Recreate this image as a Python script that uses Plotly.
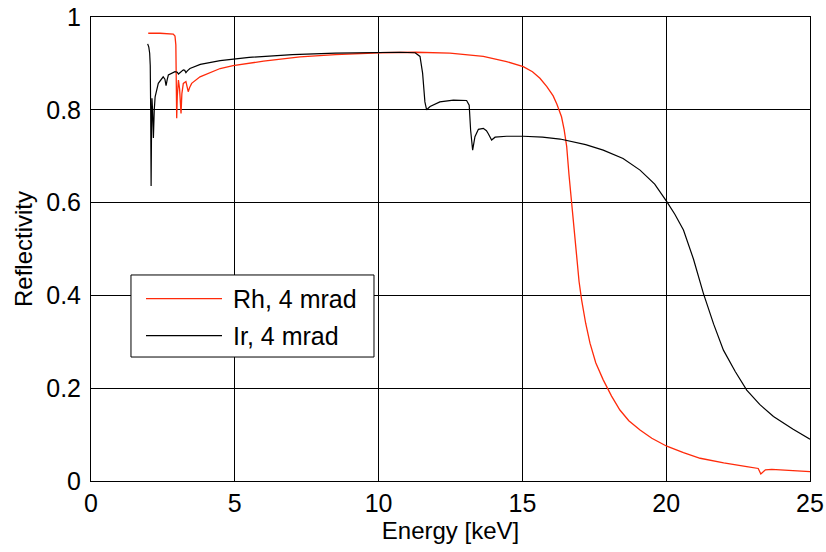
import plotly.graph_objects as go

# Rh, 4 mrad (energy keV, reflectivity)
rh_energy = [1.99, 2.40, 2.86, 2.92, 2.95, 2.97, 2.98, 3.00, 3.04, 3.08, 3.11, 3.13, 3.16, 3.21,
             3.30, 3.34, 3.38, 3.43, 3.50, 3.79, 4.49, 4.94, 6.0, 7.27, 8.5, 10.05, 11.3,
             12.48, 13.64, 14.45, 15.03, 15.35, 15.61, 15.85, 16.07, 16.20, 16.31, 16.36,
             16.45, 16.54, 16.62, 16.71, 16.80, 16.89, 16.97, 17.06, 17.20, 17.35, 17.55,
             17.81, 18.10, 18.39, 18.70, 19.09, 19.50, 20.02, 20.60, 21.18, 22.00, 22.80,
             23.20, 23.29, 23.45, 23.67, 24.30, 25.0]
rh_refl = [0.965, 0.965, 0.963, 0.959, 0.94, 0.85, 0.782, 0.83, 0.864, 0.845, 0.80, 0.792, 0.835, 0.857,
           0.861, 0.852, 0.839, 0.848, 0.857, 0.871, 0.889, 0.895, 0.905, 0.914, 0.919, 0.923, 0.924,
           0.922, 0.915, 0.904, 0.893, 0.882, 0.868, 0.850, 0.830, 0.812, 0.795, 0.785,
           0.758, 0.721, 0.660, 0.598, 0.535, 0.476, 0.430, 0.390, 0.340, 0.297, 0.255,
           0.218, 0.183, 0.153, 0.130, 0.110, 0.092, 0.075, 0.061, 0.049, 0.039, 0.031,
           0.027, 0.015, 0.024, 0.025, 0.023, 0.020]

# Ir, 4 mrad
ir_energy = [1.97, 2.01, 2.04, 2.06, 2.075, 2.09, 2.105, 2.12, 2.14, 2.16, 2.17, 2.18, 2.20,
             2.23, 2.34, 2.51, 2.57, 2.61, 2.65, 2.69, 2.92, 3.00, 3.04, 3.10, 3.21, 3.26,
             3.30, 3.35, 3.44, 3.8, 4.49, 5.5, 7.0, 8.5, 10.0, 10.74, 11.27, 11.44,
             11.53, 11.61, 11.67, 11.79, 12.13, 12.60, 13.06, 13.15, 13.20, 13.27, 13.35,
             13.47, 13.64, 13.75, 13.81, 13.93, 14.05, 14.45, 15.03, 15.7, 16.31, 16.48,
             17.2, 17.81, 18.5, 19.09, 19.60, 20.02, 20.30, 20.60, 20.95, 21.29, 21.65,
             21.99, 22.40, 22.80, 23.25, 23.73, 24.40, 25.0]
ir_refl = [0.942, 0.935, 0.922, 0.895, 0.80, 0.636, 0.76, 0.825, 0.80, 0.760, 0.739, 0.76, 0.80,
           0.828, 0.857, 0.871, 0.866, 0.852, 0.865, 0.875, 0.882, 0.881, 0.877, 0.881, 0.886, 0.885,
           0.880, 0.884, 0.889, 0.898, 0.906, 0.913, 0.919, 0.922, 0.924, 0.924, 0.923, 0.915,
           0.879, 0.817, 0.800, 0.807, 0.817, 0.821, 0.820, 0.810, 0.756, 0.713, 0.742,
           0.758, 0.760, 0.755, 0.749, 0.735, 0.741, 0.743, 0.743, 0.741, 0.737, 0.735,
           0.725, 0.713, 0.695, 0.670, 0.640, 0.602, 0.575, 0.541, 0.478, 0.405, 0.338,
           0.282, 0.236, 0.196, 0.165, 0.139, 0.112, 0.090]

series_names = ["Rh, 4 mrad", "Ir, 4 mrad"]
series_colors = ["#ff2a0a", "black"]

font = "Liberation Sans, Arial, Helvetica, sans-serif"

fig = go.Figure()
fig.add_trace(go.Scatter(x=rh_energy, y=rh_refl, mode="lines", name=series_names[0],
                         line=dict(color=series_colors[0], width=1.3), showlegend=False))
fig.add_trace(go.Scatter(x=ir_energy, y=ir_refl, mode="lines", name=series_names[1],
                         line=dict(color=series_colors[1], width=1.2), showlegend=False))

axis_common = dict(
    showline=True, linecolor="black", linewidth=1, mirror=True,
    showgrid=True, gridcolor="black", gridwidth=1, automargin=False,
    zeroline=False, ticks="", ticklabeloverflow="allow",
    tickfont=dict(size=25, color="black", family=font),
)
fig.update_xaxes(range=[0, 25], dtick=5, ticklen=0, ticklabelstandoff=0,
                 title=dict(text="Energy [keV]", font=dict(size=24, family=font), standoff=2),
                 **axis_common)
fig.update_yaxes(range=[0, 1], tickvals=[0, 0.2, 0.4, 0.6, 0.8, 1], ticktext=["0", "0.2", "0.4", "0.6", "0.8", "1"],
                 ticklabelstandoff=4,
                 title=dict(text="Reflectivity", font=dict(size=24, family=font), standoff=6), **axis_common)

# legend box drawn by hand so the sample lines match the original lengths
fig.add_shape(type="rect", xref="paper", yref="paper", x0=0.0556, x1=0.3936, y0=0.2672, y1=0.444,
              line=dict(color="black", width=1), fillcolor="white", layer="above")
row_y = [0.3929, 0.3131]
for name, color, yy in zip(series_names, series_colors, row_y):
    fig.add_shape(type="line", xref="paper", yref="paper", x0=0.0765, x1=0.1822, y0=yy, y1=yy,
                  line=dict(color=color, width=1.2), layer="above")
    fig.add_annotation(xref="paper", yref="paper", x=0.1947, y=yy, text=name, showarrow=False,
                       xanchor="left", yanchor="middle", font=dict(size=25, family=font, color="black"))

fig.update_layout(
    width=826, height=552,
    margin=dict(l=91, r=16, t=17, b=71),
    plot_bgcolor="white", paper_bgcolor="white",
    font=dict(family=font, color="black", size=24),
)

# drop the default 8px body margin so the figure fills the window exactly
fig.write_html("out.html", config={"displayModeBar": False},
               post_script="document.body.style.margin='0';")
